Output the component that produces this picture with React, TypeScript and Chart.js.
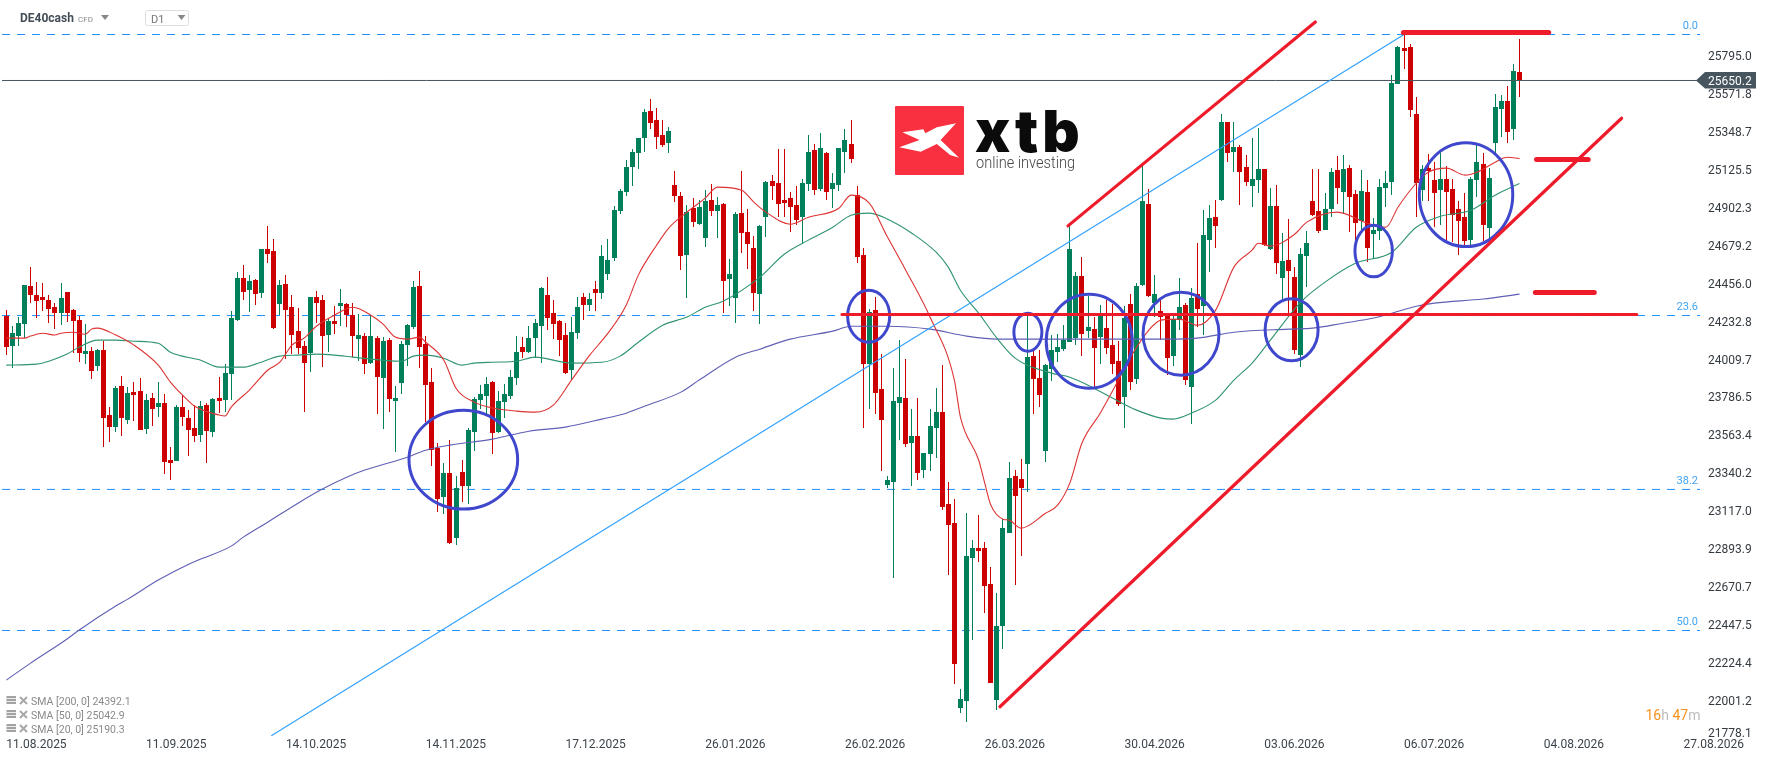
import React, { useEffect, useRef } from "react";
import { Chart, registerables } from "chart.js";

Chart.register(...registerables);

const instrument = "DE40cash";
const instrumentKind = "CFD";
const timeframe = "D1";
const lastPrice = 25650.2;
const countdown = ["16", "h ", "47", "m"];

const direction = (
  "RGGGRRRRRG" + "RRRGRGRRGR" + "GRRGRGRRGR" + "RRGRGRGGGR" + "GRGRRGRRRR" +
  "GRRGRGRRGR" + "GRGRGGGGRR" + "RRGRGRGGGG" + "RGGGGRGGGR" + "RRRGGRGRGG" +
  "GGGGGGRRRG" + "RRGRGGRGRG" + "GRRRGGRRRR" + "RGGRGRGGGR" + "RRGRRGGGRG" +
  "RGGGRRRGGG" + "RRRGGGRRGR" + "RGGGGGGRGR" + "GRRRGRGGRG" + "RRGGRGRGGR" +
  "GRGRRGGRGR" + "GRRGGRRGGR" + "GRRGRGGGGG" + "RRRGRRGRRR" + "RGGRGGGRGR"
).split("");

const highs = [
  24298,24203,24257,24445,24551,24463,24457,24386,24339,24457,
  24404,24304,24263,24215,24080,24068,24115,23727,23850,23909,
  23844,23874,23897,23803,23809,23874,23803,23491,23738,23797,
  23709,23738,23762,23750,23780,23903,23980,24292,24521,24563,
  24504,24480,24657,24792,24716,24474,24504,24386,24310,24115,
  24374,24410,24386,24251,24321,24421,24339,24339,24274,24162,
  24268,24145,24139,24133,23850,24115,24215,24468,24527,24145,
  23956,23515,23397,23532,23320,23415,23603,23785,23856,23903,
  23880,23821,23862,23944,24145,24139,24203,24245,24433,24492,
  24357,24239,24221,24257,24374,24398,24398,24468,24680,24716,
  24910,25010,25181,25246,25310,25481,25540,25487,25416,25375,
  25116,24993,24916,24957,24945,25004,25040,24963,24928,24598,
  24875,25116,24892,24733,24798,25057,25093,25246,25246,24993,
  25028,25069,25328,25275,25340,25228,25104,25252,25363,25416,
  25028,24663,24304,24374,24039,23320,23956,24121,24009,23715,
  23780,23456,23715,23838,23974,23285,23185,22066,23102,22943,
  23091,22932,22785,22631,23067,23403,23356,23420,24262,24062,
  24062,23980,24151,24156,24209,24792,24521,24610,24380,24257,
  24327,24357,24333,24115,24321,24392,24457,25151,25010,24504,
  24357,24268,24262,24486,24339,24427,24692,24886,24916,24945,
  25452,25405,25405,25269,25210,25310,25369,25128,25016,25034,
  24751,24834,24551,24663,24763,25128,25128,24987,25134,25204,
  25210,25151,25004,25122,25063,24839,25069,25116,25681,25852,
  25923,25864,25552,25151,25216,25169,25222,25146,25069,24940,
  24987,25081,25269,25222,25134,25570,25564,25617,25746,25893,
];

const bodyTops = [
  24263,24162,24221,24445,24439,24386,24374,24357,24315,24368,
  24404,24298,24239,24056,24056,24062,24062,23680,23838,23850,
  23809,23815,23821,23768,23780,23750,23750,23415,23727,23727,
  23662,23603,23733,23738,23774,23780,23927,24251,24486,24486,
  24468,24474,24657,24657,24645,24445,24451,24315,24174,24086,
  24374,24374,24357,24233,24233,24339,24333,24268,24151,24145,
  24145,24133,24115,24121,23780,24097,24209,24433,24439,24097,
  23874,23485,23338,23338,23250,23344,23591,23774,23803,23862,
  23874,23762,23803,23903,24050,24080,24133,24221,24427,24386,
  24280,24233,24151,24168,24315,24374,24363,24421,24616,24592,
  24886,24998,25140,25228,25310,25464,25469,25416,25328,25352,
  25034,24969,24875,24898,24904,24939,24945,24916,24922,24510,
  24863,24869,24757,24663,24792,25051,25057,25045,24945,24957,
  24916,25045,25228,25240,25252,25222,25045,25252,25299,25275,
  24975,24622,24286,24298,23833,23297,23762,23785,23780,23556,
  23556,23456,23615,23697,23697,23155,23044,22007,22849,22896,
  22896,22896,22684,22437,23014,23309,23320,23303,24021,24027,
  23897,23974,24062,24080,24121,24657,24498,24498,24198,24186,
  24262,24192,24092,23997,24251,24333,24439,24939,24922,24392,
  24292,24262,24245,24315,24327,24368,24392,24739,24839,24845,
  25405,25405,25257,25257,25140,25069,25128,25128,24910,24910,
  24586,24592,24492,24627,24692,24939,24881,24892,25110,25122,
  25128,25134,24981,24998,24993,24769,25022,25045,25634,25846,
  25840,25846,25452,25128,25134,25063,25069,25069,25010,24892,
  24845,25069,25169,25157,25075,25493,25528,25528,25705,25699,
];

const bodyBottoms = [
  24082,24086,24145,24215,24386,24351,24357,24304,24280,24280,
  24280,24233,24045,24039,23939,23968,23662,23609,23609,23662,
  23650,23797,23591,23597,23715,23727,23403,23397,23409,23668,
  23591,23556,23562,23585,23579,23762,23768,23921,24239,24404,
  24415,24392,24398,24627,24192,24333,24298,24151,24074,23986,
  24045,24339,24145,24151,24215,24321,24268,24145,24127,23980,
  23986,23903,23897,23774,23762,23868,24092,24198,24080,23856,
  23473,23185,23197,22926,22955,23261,23261,23579,23768,23791,
  23573,23579,23756,23791,23897,24050,24050,24133,24203,24251,
  24215,24121,23927,23944,24162,24327,24327,24398,24398,24510,
  24604,24881,24993,25140,25222,25310,25399,25316,25269,25281,
  24969,24616,24622,24816,24804,24722,24881,24881,24468,24480,
  24368,24751,24686,24398,24392,24845,25028,24922,24928,24904,
  24828,24845,25040,25004,25010,24993,25010,25034,25228,25187,
  24610,23980,23980,23809,23650,23267,23285,23750,23509,23515,
  23338,23356,23450,23603,23138,23032,22213,21954,21995,22837,
  22879,22673,22102,22001,22437,22985,23203,23250,23391,23891,
  23797,23467,23950,24050,24068,24109,24133,24156,24174,24074,
  24139,24074,23980,23744,23785,23874,23891,24445,24380,24339,
  24257,24015,24027,24239,23886,23844,24304,24321,24710,24792,
  24945,25222,25228,25110,25051,25028,25063,24680,24657,24574,
  24486,24527,24062,24033,24616,24857,24763,24769,24892,25016,
  24993,24963,24810,24822,24663,24745,24763,25016,25051,25628,
  25823,25475,25045,25004,25116,24987,25004,24993,24857,24822,
  24704,24710,25063,24798,24781,25281,25481,25346,25363,25650.2,
];

const lows = [
  24033,23956,24086,24133,24339,24251,24292,24221,24186,24209,
  24227,24045,23991,23980,23891,23939,23491,23521,23579,23556,
  23627,23644,23591,23568,23615,23668,23332,23297,23409,23615,
  23438,23521,23521,23397,23550,23691,23697,23768,24233,24357,
  24286,24327,24368,24574,24186,24268,24009,24039,24039,23697,
  23933,24221,23962,24050,24156,24203,24198,24021,23997,23921,
  23980,23685,23597,23697,23462,23803,23968,24186,23956,23638,
  23379,23108,23097,22920,22914,23167,23155,23467,23715,23680,
  23450,23573,23662,23774,23856,24015,24045,24015,23986,24180,
  24127,24027,23921,23886,24127,24239,24292,24292,24363,24474,
  24586,24863,24969,25028,25128,25228,25363,25246,25257,25222,
  24934,24533,24368,24786,24798,24669,24851,24722,24280,24321,
  24221,24633,24539,24292,24215,24728,24945,24845,24845,24757,
  24798,24692,24998,24975,24998,24945,24898,24998,25104,25163,
  24574,23603,23715,23685,23350,23250,22720,23532,23491,23261,
  23297,23309,23350,23426,23120,22737,22096,21925,21872,22355,
  22814,22514,22102,21943,22302,22985,22679,22849,23226,23685,
  23727,23403,23880,23991,24056,24109,24092,24027,24133,23844,
  23980,24039,23921,23733,23603,23827,23862,24439,24374,24257,
  24121,23915,23968,24180,23856,23627,24198,24151,24521,24663,
  24940,25169,25110,24916,25028,24904,24987,24675,24651,24510,
  24357,24257,24039,23962,24433,24851,24751,24769,24845,24922,
  24863,24757,24680,24769,24580,24598,24710,24904,24975,25628,
  25717,25434,24845,24939,24939,24786,24798,24698,24698,24622,
  24669,24680,24963,24704,24722,25210,25316,25281,25299,25552,
];

const sma200Bars = [0,4,10,12,18,20,25,30,32,37,39,43,48,52,56,59,66,69,73,80,86,92,98,102,105,111,114,120,124,129,136,139,145,152,158,163,172,182,191,196,202,211,215,220,225,228,232,235,243,249];
const sma200Values = [22119,22219,22361,22414,22555,22596,22708,22802,22832,22908,22961,23049,23161,23244,23314,23356,23432,23473,23503,23538,23585,23609,23656,23691,23732,23815,23886,24021,24068,24127,24174,24203,24203,24186,24145,24127,24127,24127,24127,24133,24168,24186,24192,24221,24251,24280,24321,24339,24363,24392.1];

const sma50Bars = [0,5,7,10,12,15,18,21,25,27,32,35,39,41,45,48,51,54,57,62,65,67,69,72,75,77,80,84,87,93,98,101,104,108,112,115,118,124,128,132,136,139,142,146,149,153,155,157,160,163,166,172,175,178,182,186,190,192,195,199,202,205,208,213,217,222,228,232,236,241,245,249];
const sma50Values = [23974,23980,23997,24039,24080,24121,24121,24115,24103,24050,24003,23962,23962,23980,24027,24033,24039,24033,24021,24003,23997,24027,24033,24015,23974,23986,23991,23997,24021,23986,23991,24027,24109,24209,24257,24315,24351,24492,24627,24710,24786,24857,24869,24816,24751,24639,24551,24415,24280,24133,24015,23927,23903,23856,23780,23709,23662,23656,23691,23768,23886,23986,24121,24345,24463,24574,24639,24786,24851,24886,24975,25042.9];

const sma20Bars = [0,3,4,6,8,9,11,13,14,15,18,21,25,27,29,31,35,36,37,40,43,45,47,49,51,54,57,60,62,64,66,68,69,72,74,77,80,84,87,90,93,96,99,102,104,107,109,112,115,117,121,123,125,129,132,137,139,142,145,148,152,156,157,160,161,162,164,165,167,171,173,175,177,180,183,185,188,190,193,196,199,202,205,206,208,212,214,219,224,227,229,232,234,237,240,242,245,247,249];
const sma20Values = [24133,24133,24145,24162,24151,24162,24168,24156,24186,24192,24151,24092,23974,23874,23797,23732,23680,23674,23727,23827,23944,23991,24092,24133,24203,24268,24315,24268,24215,24139,24127,24139,24109,24003,23838,23756,23721,23703,23697,23738,23886,24033,24162,24327,24504,24680,24781,24875,24957,25022,25004,24934,24875,24804,24845,24898,24975,24928,24728,24533,24257,23886,23668,23415,23279,23150,23067,23061,23014,23102,23150,23279,23515,23691,23886,24021,24180,24239,24245,24209,24298,24551,24651,24692,24675,24745,24816,24875,24810,24786,24904,25045,25110,25134,25093,25110,25169,25198,25190.3];

const fibLevels = [25921, 24266, 23242, 22411];
const fibLabels = ["0.0", "23.6", "38.2", "50.0"];
const fibLineBars = [43.6, 230];
const fibLinePrices = [21791, 25921];

const redSegments = [
  { bars: [174.7, 215.4], prices: [24794, 25995], width: 3.2 },
  { bars: [229.9, 253.8], prices: [25933, 25933], width: 5 },
  { bars: [163.5, 265.8], prices: [21962, 25428], width: 3.2 },
  { bars: [137.5, 268.3], prices: [24272, 24272], width: 3 },
  { bars: [251.8, 260.3], prices: [25185, 25185], width: 5 },
  { bars: [251.6, 261.3], prices: [24402, 24402], width: 5 },
];

const ellipseBars = [75.2, 141.9, 168.1, 178.2, 193.3, 211.5, 225.0, 240.2];
const ellipsePrices = [23417, 24262, 24168, 24115, 24159, 24182, 24646, 24978];
const ellipseBarRadii = [8.94, 3.46, 2.3, 7.08, 6.25, 4.36, 3.08, 7.69];
const ellipsePriceRadii = [291, 153, 112, 277, 244, 183, 152, 306];

const yTickValues = [25795.0,25571.8,25348.7,25125.5,24902.3,24679.2,24456.0,24232.8,24009.7,23786.5,23563.4,23340.2,23117.0,22893.9,22670.7,22447.5,22224.4,22001.2];
const bottomTickLabel = "21778.1";
const xTickLabels = ["11.08.2025","11.09.2025","14.10.2025","14.11.2025","17.12.2025","26.01.2026","26.02.2026","26.03.2026","30.04.2026","03.06.2026","06.07.2026","04.08.2026","27.08.2026"];
const xTickEvery = 23;

const legendRows = ["SMA [200, 0] 24392.1", "SMA [50, 0] 25042.9", "SMA [20, 0] 25190.3"];
const logoWord = "xtb";
const logoTagline = "online investing";

const UP = "#00805a";
const DOWN = "#cc0000";
const FONT = "Roboto";

const bars = highs.map((_, i) => i);
const colors = direction.map((d) => (d === "G" ? UP : DOWN));
const zip = (xs: number[], ys: number[]) => xs.map((x, i) => ({ x, y: ys[i] }));

const crispBars = {
  id: "crispBars",
  afterDatasetsUpdate(chart: any) {
    chart.data.datasets.forEach((ds: any, i: number) => {
      if (ds.type !== "bar") return;
      chart.getDatasetMeta(i).data.forEach((el: any) => {
        el.x = Math.floor(el.x) + 0.5;
        el.y = Math.round(el.y);
        el.base = Math.round(el.base);
      });
    });
  },
};

const ellipses = {
  id: "ellipses",
  afterDatasetDraw(chart: any, args: any) {
    if (chart.data.datasets[args.index].label !== "SMA 20") return;
    const { x: xs, y: ys } = chart.scales;
    const ctx = chart.ctx;
    ctx.save();
    ctx.strokeStyle = "#3f48cc";
    ctx.lineWidth = 3;
    ellipseBars.forEach((b, i) => {
      const cx = xs.getPixelForValue(b);
      const cy = ys.getPixelForValue(ellipsePrices[i]);
      const rx = xs.getPixelForValue(b + ellipseBarRadii[i]) - cx;
      const ry = cy - ys.getPixelForValue(ellipsePrices[i] + ellipsePriceRadii[i]);
      ctx.beginPath();
      ctx.ellipse(cx, cy, rx, ry, 0, 0, Math.PI * 2);
      ctx.stroke();
    });
    ctx.restore();
  },
};

const decorations = {
  id: "decorations",
  afterDraw(chart: any) {
    const ctx = chart.ctx;
    const ys = chart.scales.y;
    ctx.save();

    // Fibonacci labels
    ctx.font = `11px ${FONT}`;
    ctx.fillStyle = "#42a5f5";
    ctx.textAlign = "right";
    ctx.textBaseline = "middle";
    fibLevels.forEach((p, i) => ctx.fillText(fibLabels[i], 1698, ys.getPixelForValue(p) - 8));

    // Last price tag
    const py = ys.getPixelForValue(lastPrice);
    ctx.fillStyle = "#47555f";
    ctx.beginPath();
    ctx.moveTo(1696, py);
    ctx.lineTo(1705, py - 8.5);
    ctx.lineTo(1756, py - 8.5);
    ctx.lineTo(1756, py + 8);
    ctx.lineTo(1705, py + 8);
    ctx.closePath();
    ctx.fill();
    ctx.fillStyle = "#ffffff";
    ctx.font = `12px ${FONT}`;
    ctx.textAlign = "left";
    ctx.fillText(lastPrice.toFixed(1), 1708, py + 1.5);

    // Clamped bottom axis label
    ctx.fillStyle = "#333a40";
    ctx.fillText(bottomTickLabel, 1708, 733.5);

    // Header
    ctx.fillStyle = "#434d57";
    ctx.font = `bold 12px ${FONT}`;
    ctx.fillText(instrument, 20, 19);
    ctx.fillStyle = "#8a8a8a";
    ctx.font = `8px ${FONT}`;
    ctx.fillText(instrumentKind, 78, 19.5);
    const tri = (x: number, y: number, w: number, h: number) => {
      ctx.beginPath();
      ctx.moveTo(x, y);
      ctx.lineTo(x + w, y);
      ctx.lineTo(x + w / 2, y + h);
      ctx.closePath();
      ctx.fill();
    };
    ctx.fillStyle = "#888888";
    tri(101, 15, 8, 5);
    tri(177.5, 15, 8, 5);
    ctx.strokeStyle = "#dedede";
    ctx.lineWidth = 1;
    ctx.beginPath();
    ctx.roundRect(145.5, 10.5, 43, 15, 2);
    ctx.stroke();
    ctx.fillStyle = "#777777";
    ctx.font = `11px ${FONT}`;
    ctx.fillText(timeframe, 151, 20);

    // Indicator legend
    legendRows.forEach((text, i) => {
      const y = 701 + i * 14;
      ctx.fillStyle = "#a2a2a2";
      ctx.fillRect(6.5, y - 5, 9.5, 8);
      ctx.fillStyle = "#ffffff";
      [-3, 0].forEach((dy) => ctx.fillRect(6.5, y + dy, 9.5, 0.8));
      ctx.strokeStyle = "#a8a8a8";
      ctx.lineWidth = 2;
      ctx.beginPath();
      ctx.moveTo(20, y - 4);
      ctx.lineTo(27, y + 3);
      ctx.moveTo(27, y - 4);
      ctx.lineTo(20, y + 3);
      ctx.stroke();
      ctx.fillStyle = "#8a8a8a";
      ctx.font = `10.5px ${FONT}`;
      ctx.fillText(text, 31, y + 1);
    });

    // Countdown
    ctx.font = `14px ${FONT}`;
    let cx = 1645.5;
    countdown.forEach((part, i) => {
      ctx.fillStyle = i % 2 === 0 ? "#f7931e" : "#bdbdbd";
      ctx.fillText(part, cx, 716);
      cx += ctx.measureText(part).width;
    });

    // Logo
    ctx.fillStyle = "#f9303f";
    ctx.beginPath();
    ctx.roundRect(895, 106, 69, 69, 1);
    ctx.fill();
    ctx.fillStyle = "#ffffff";
    ctx.beginPath();
    [[956,123.3],[936.8,127.3],[925.3,133.3],[923.4,129.3],[902.3,132.3],[919.6,140],[899.3,147.3],[920.7,151.7],[936.8,144],[950.2,155],[959,157.7],[940.6,140]].forEach(([x, y], i) => (i ? ctx.lineTo(x, y) : ctx.moveTo(x, y)));
    ctx.closePath();
    ctx.fill();
    ctx.fillStyle = "#0b0b0b";
    ctx.font = "900 58px Inter";
    ctx.textBaseline = "alphabetic";
    (ctx as any).letterSpacing = "4px";
    ctx.fillText(logoWord, 975, 152);
    (ctx as any).letterSpacing = "0px";
    ctx.fillStyle = "#444444";
    ctx.font = `300 16px Roboto`;
    ctx.fillText(logoTagline, 976, 168, 99);
    ctx.restore();
  },
};

export default function App() {
  const ref = useRef<HTMLCanvasElement | null>(null);

  useEffect(() => {
    if (!ref.current) return;
    const line = (label: string, data: any[], color: string, width: number, order: number, extra: any = {}) => ({
      type: "line", label, data, borderColor: color, borderWidth: width, order,
      pointRadius: 0, tension: 0, fill: false, ...extra,
    });
    const smooth = { cubicInterpolationMode: "monotone" };
    const datasets: any[] = [
      ...fibLevels.map((p, i) =>
        line(`Fib ${fibLabels[i]}`, zip([-0.71, 278.7], [p, p]), "#1e90ff", 1, 30, { borderDash: [8, 7] })),
      {
        type: "bar", label: "Wicks", order: 20, grouped: false, barPercentage: 1, categoryPercentage: 1,
        maxBarThickness: 1, inflateAmount: 0, borderWidth: 0,
        data: bars.map((i) => ({ x: i, y: [lows[i], highs[i]] })),
        backgroundColor: colors,
      },
      {
        type: "bar", label: "Bodies", order: 19, grouped: false, barPercentage: 1, categoryPercentage: 1,
        maxBarThickness: 5, inflateAmount: 0, borderWidth: 0,
        data: bars.map((i) => ({ x: i, y: [bodyBottoms[i], bodyTops[i]] })),
        backgroundColor: colors,
      },
      line("Last price", zip([-0.71, 278.7], [lastPrice, lastPrice]), "#47555f", 1, 12),
      line("SMA 200", zip(sma200Bars, sma200Values), "#5f5fb5", 1.1, 11, smooth),
      line("SMA 50", zip(sma50Bars, sma50Values), "#2f9470", 1.1, 10, smooth),
      line("SMA 20", zip(sma20Bars, sma20Values), "#dd3333", 1.1, 9, smooth),
      line("Fib trend", zip(fibLineBars, fibLinePrices), "#2f9fff", 1.1, 8),
      ...redSegments.map((s, i) =>
        line(`Drawn ${i + 1}`, zip(s.bars, s.prices), "#ee1c2b", s.width, 2, { borderCapStyle: "round" })),
    ];

    const chart = new Chart(ref.current, {
      type: "bar",
      data: { datasets },
      plugins: [crispBars, ellipses, decorations],
      options: {
        animation: false,
        responsive: false,
        devicePixelRatio: 1,
        layout: { padding: 0 },
        font: { family: FONT },
        plugins: { legend: { display: false }, tooltip: { enabled: false }, title: { display: false } },
        scales: {
          x: {
            type: "linear",
            offset: false,
            min: -1.042,
            max: 278.7,
            grid: { display: false, drawTicks: false, offset: false },
            border: { display: false },
            afterBuildTicks: (s: any) => { s.ticks = xTickLabels.map((_, i) => ({ value: i * xTickEvery })); },
            afterFit: (s: any) => { s.height = 23; s.paddingLeft = 0; s.paddingRight = 0; },
            ticks: {
              autoSkip: false, maxRotation: 0, minRotation: 0, align: "start", padding: 0,
              color: "#3c444b", font: { family: FONT, size: 12 },
              callback: (v: any) => xTickLabels[Math.round(v / xTickEvery)] ?? "",
            },
          },
          y: {
            type: "linear",
            position: "right",
            min: 21778.1,
            max: 26124.2,
            grid: { display: false, drawTicks: false },
            border: { display: false },
            afterBuildTicks: (s: any) => { s.ticks = yTickValues.map((value) => ({ value })); },
            afterFit: (s: any) => { s.width = 68; s.paddingTop = 0; s.paddingBottom = 0; },
            ticks: {
              autoSkip: false, padding: 8,
              color: "#333a40", font: { family: FONT, size: 12, lineHeight: "3px" },
              callback: (v: any) => ["", Number(v).toFixed(1)],
            },
          },
        },
      } as any,
    } as any);
    return () => chart.destroy();
  }, []);

  return (
    <div style={{ position: "fixed", left: 0, top: 0, width: 1768, height: 761, background: "#ffffff" }}>
      <canvas ref={ref} width={1768} height={761} style={{ display: "block" }} />
    </div>
  );
}
